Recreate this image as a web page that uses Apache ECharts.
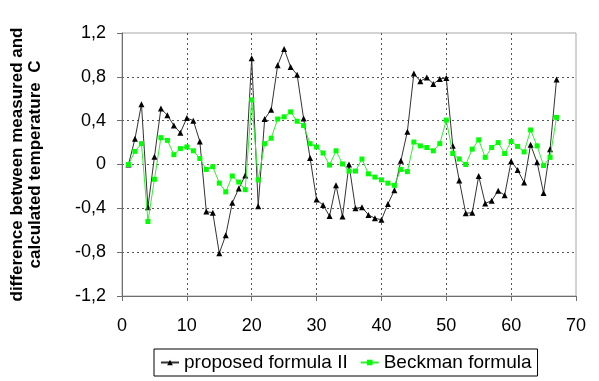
<!DOCTYPE html>
<html>
<head>
<meta charset="utf-8">
<script src="https://cdn.jsdelivr.net/npm/echarts@6/dist/echarts.min.js"></script>
<style>
  html, body { margin: 0; padding: 0; background: #ffffff; }
  #chart { width: 599px; height: 381px; }
</style>
</head>
<body>
<div id="chart"></div>
<script>
// Sample number of each measurement
const sampleNo = [
  1, 2, 3, 4, 5, 6, 7, 8, 9, 10,
  11, 12, 13, 14, 15, 16, 17, 18, 19, 20,
  21, 22, 23, 24, 25, 26, 27, 28, 29, 30,
  31, 32, 33, 34, 35, 36, 37, 38, 39, 40,
  41, 42, 43, 44, 45, 46, 47, 48, 49, 50,
  51, 52, 53, 54, 55, 56, 57, 58, 59, 60,
  61, 62, 63, 64, 65, 66, 67
];

// Measured minus calculated temperature, proposed formula II
const proposedII = [
  0.00, 0.235, 0.55, -0.39, 0.07, 0.51, 0.45, 0.355, 0.29, 0.425,
  0.40, 0.21, -0.43, -0.44, -0.81, -0.645, -0.35, -0.22, -0.10, 0.97,
  -0.38, 0.415, 0.50, 0.905, 1.055, 0.89, 0.82, 0.42, 0.06, -0.32,
  -0.37, -0.47, -0.19, -0.475, 0.00, -0.40, -0.39, -0.46, -0.49, -0.505,
  -0.36, -0.235, 0.035, 0.30, 0.83, 0.76, 0.795, 0.735, 0.78, 0.79,
  0.17, -0.145, -0.445, -0.44, -0.105, -0.355, -0.33, -0.24, -0.28, 0.03,
  -0.05, -0.165, 0.18, 0.02, -0.26, 0.14, 0.775
];

// Measured minus calculated temperature, Beckman formula
const beckman = [
  0.00, 0.12, 0.19, -0.52, -0.135, 0.245, 0.22, 0.09, 0.145, 0.16,
  0.125, 0.055, -0.045, -0.02, -0.17, -0.25, -0.105, -0.16, -0.23, 0.59,
  -0.14, 0.19, 0.24, 0.415, 0.435, 0.48, 0.395, 0.355, 0.19, 0.16,
  0.105, -0.005, 0.125, 0.005, -0.06, -0.06, 0.05, -0.085, -0.115, -0.14,
  -0.17, -0.19, -0.045, -0.065, 0.205, 0.17, 0.155, 0.125, 0.19, 0.405,
  0.10, 0.05, 0.00, 0.14, 0.225, 0.065, 0.155, 0.20, 0.10, 0.21,
  0.165, 0.115, 0.315, 0.17, -0.01, 0.065, 0.43
];

const seriesNames = ['proposed formula II', 'Beckman formula'];
const yTitle = 'difference between measured and\ncalculated temperature  C';

const pairs = (ys) => sampleNo.map((x, i) => [x, ys[i]]);

const FONT = '"Liberation Sans", Arial, sans-serif';
const chart = echarts.init(document.getElementById('chart'), null, { renderer: 'canvas' });

chart.setOption({
  animation: false,
  backgroundColor: '#ffffff',
  grid: {
    left: 118, right: 23, top: 33, bottom: 85,
    show: true, borderColor: '#a6a6a6', borderWidth: 1
  },
  xAxis: {
    type: 'value', min: 0, max: 70, interval: 10,
    axisLine: { show: true, onZero: false, lineStyle: { color: '#6e6e6e', width: 1 } },
    axisTick: { show: true, inside: false, length: 5, lineStyle: { color: '#6e6e6e' } },
    axisLabel: { margin: 21, color: '#000', fontFamily: FONT, fontSize: 18 },
    splitLine: {
      show: true, showMinLine: false, showMaxLine: false,
      lineStyle: { color: '#555', type: [2, 3], width: 1 }
    }
  },
  yAxis: {
    type: 'value', min: -1.2, max: 1.2, interval: 0.4,
    name: yTitle,
    nameLocation: 'middle',
    nameRotate: 90,
    nameGap: 78,
    nameTextStyle: {
      fontFamily: FONT, fontSize: 17, fontWeight: 'bold', color: '#000',
      lineHeight: 18, align: 'center'
    },
    axisLine: { show: true, onZero: false, lineStyle: { color: '#6e6e6e', width: 1 } },
    axisTick: { show: true, inside: false, length: 5, lineStyle: { color: '#6e6e6e' } },
    axisLabel: {
      margin: 16, color: '#000', fontFamily: FONT, fontSize: 18,
      formatter: (v) => String(Math.round(v * 10) / 10).replace('.', ',')
    },
    splitLine: {
      show: true, showMinLine: false, showMaxLine: false,
      lineStyle: { color: '#555', type: [2, 3], width: 1 }
    }
  },
  legend: {
    left: 154, top: 349,
    padding: [4, 6, 4, 6],
    itemGap: 12,
    itemWidth: 18, itemHeight: 7,
    borderColor: '#000', borderWidth: 1,
    backgroundColor: '#fff',
    textStyle: { fontFamily: FONT, fontSize: 19, color: '#000' },
    data: seriesNames
  },
  series: [
    {
      name: seriesNames[0],
      type: 'line',
      data: pairs(proposedII),
      symbol: 'triangle',
      symbolSize: 6,
      itemStyle: { color: '#000000' },
      lineStyle: { color: '#333333', width: 1 },
      z: 2
    },
    {
      name: seriesNames[1],
      type: 'line',
      data: pairs(beckman),
      symbol: 'rect',
      symbolSize: 5,
      itemStyle: { color: '#00ff00' },
      lineStyle: { color: '#33ee33', width: 1 },
      z: 3
    }
  ]
});
</script>
</body>
</html>
